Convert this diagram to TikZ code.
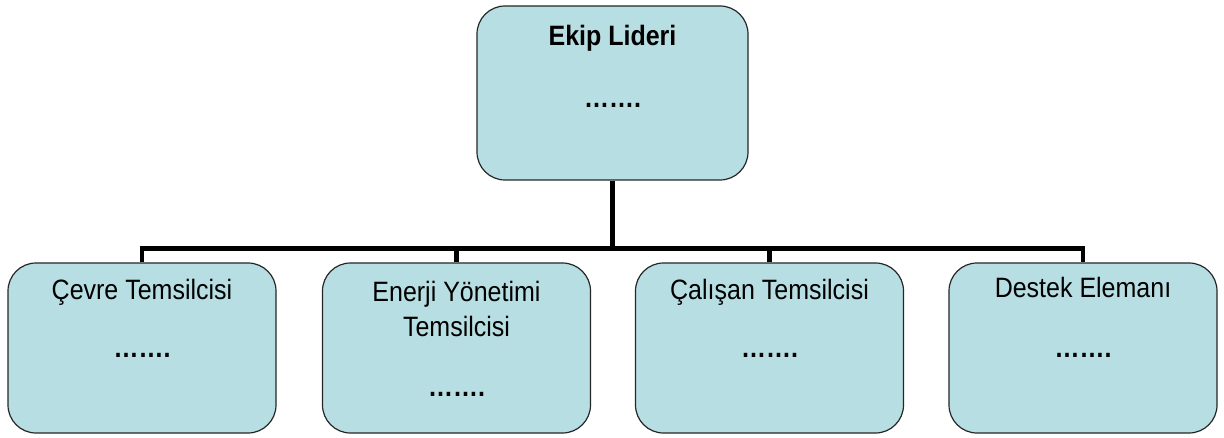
\documentclass[tikz,border=0pt]{standalone}
\usepackage{fontspec}
\setmainfont{Liberation Sans}
\usetikzlibrary{positioning}
\definecolor{myblue}{RGB}{183,222,226}
\newcommand{\tall}[1]{\scalebox{1}[1.12]{#1}}

\begin{document}
\begin{tikzpicture}[x=1pt, y=1pt,
  unit/.style = {draw = black!85, line width = 1.2pt, fill = myblue, rounded corners = 28pt,
                 minimum width = 268pt, minimum height = 170pt, inner sep = 0pt},
  txt/.style  = {anchor = base, inner sep = 0pt, font = \fontsize{25}{30}\selectfont},
  link/.style = {line width = 4.5pt, line join = miter}]
\useasboundingbox (0,0) rectangle (1224,437);

%%%%%%%%%%%%%%% leader %%%%%%%%%%%%%%%%
\node [unit, minimum width = 271pt, minimum height = 174pt] (lider) at (612.5,344) {};
\node [txt, font = \fontsize{25}{30}\selectfont\bfseries] (lidername) at ([yshift=-40pt]lider.north) {\tall{Ekip Lideri}};
\node [txt, font = \fontsize{25}{30}\selectfont\bfseries] (liderdots) at ([yshift=-102pt]lider.north) {\tall{…….}};

%%%%%%%%%%%%%%% members %%%%%%%%%%%%%%%%
\foreach \name/\x in {cevre/142, enerji/456.5, calisan/769.5, destek/1083}
	\node [unit] (\name) at (\x,89) {};

\node [txt] (cevrename) at ([yshift=-37pt]cevre.north) {\tall{Çevre Temsilcisi}};
\node [txt] (enerjiname) at ([yshift=-39pt]enerji.north) {\tall{Enerji Yönetimi}};
\node [txt] (enerjiname2) at ([yshift=-74pt]enerji.north) {\tall{Temsilcisi}};
\node [txt] (calisanname) at ([yshift=-37pt]calisan.north) {\tall{Çalışan Temsilcisi}};
\node [txt] (destekname) at ([yshift=-35pt]destek.north) {\tall{Destek Elemanı}};
\foreach \name/\d in {cevre/95, enerji/134, calisan/95, destek/95}
	\node [txt, font = \fontsize{25}{30}\selectfont\bfseries] (\name dots) at ([yshift=-\d pt]\name.north) {\tall{…….}};

%%%%%%%%%%%%%%% links %%%%%%%%%%%%%%%%
\coordinate (hub) at ([yshift=-68pt]lider.south);
\draw [link] (lider.south) -- (hub);
\draw [link] (cevre.north) |- (destek.north |- hub) -- (destek.north);
\foreach \name in {enerji, calisan}
	\draw [link] (\name.north) -- (\name.north |- hub);

\end{tikzpicture}
\end{document}
